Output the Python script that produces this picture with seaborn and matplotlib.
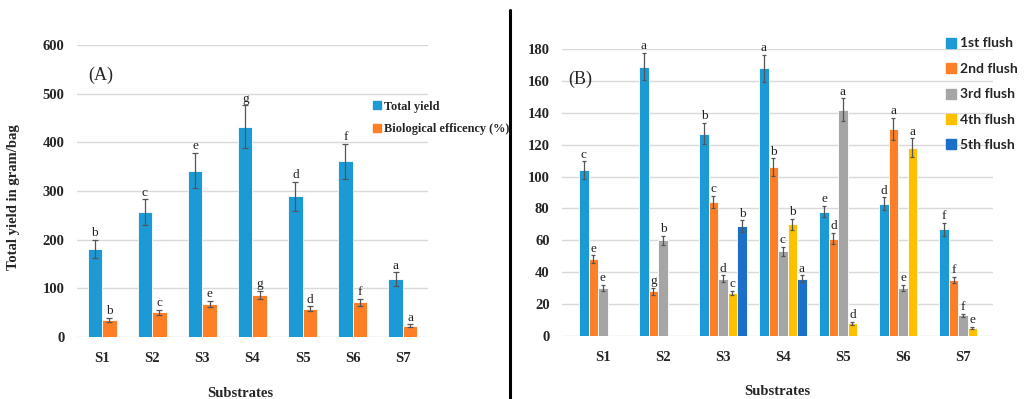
import numpy as np
import pandas as pd
import matplotlib
matplotlib.use("Agg")
import matplotlib.pyplot as plt
from matplotlib.lines import Line2D
import seaborn as sns

# ---- data -------------------------------------------------------------
substrates = ["S1", "S2", "S3", "S4", "S5", "S6", "S7"]

total_yield = [181, 257, 342, 432, 289, 361, 119]
total_yield_err = [19, 26, 36, 44, 30, 36, 14]
total_yield_letters = ["b", "c", "e", "g", "d", "f", "a"]

bio_eff = [35, 51, 68, 87, 58, 71, 23]
bio_eff_err = [5, 5, 6, 8, 5, 8, 3]
bio_eff_letters = ["b", "c", "e", "g", "d", "f", "a"]

flush_names = ["1st flush", "2nd flush", "3rd flush", "4th flush", "5th flush"]
nan = np.nan
flush1 = [104, 169, 127, 168, 78, 83, 67]
flush2 = [48, 28, 84, 106, 61, 130, 35]
flush3 = [30, 60, 36, 53, 142, 30, 13]
flush4 = [nan, nan, 27, 70, 8, 118, 5]
flush5 = [nan, nan, 69, 36, nan, nan, nan]

flush1_err = [5.5, 8.5, 6.5, 8.5, 3.5, 4, 4]
flush2_err = [2.5, 2, 4, 5.5, 3.5, 7, 2]
flush3_err = [2, 3, 2, 3, 7, 2, 1]
flush4_err = [nan, nan, 1.5, 3.5, 1, 6, 0.5]
flush5_err = [nan, nan, 3.5, 2, nan, nan, nan]

flush1_letters = ["c", "a", "b", "a", "e", "d", "f"]
flush2_letters = ["e", "g", "c", "b", "d", "a", "f"]
flush3_letters = ["e", "b", "d", "c", "a", "e", "f"]
flush4_letters = ["", "", "c", "b", "d", "a", "e"]
flush5_letters = ["", "", "b", "a", "", "", ""]

# ---- style ------------------------------------------------------------
sns.set_style("white")
plt.rcParams["font.family"] = ["Liberation Serif", "DejaVu Serif"]

BLUE = "#1B9AD6"
ORANGE = "#FF7F27"
GRAY = "#A5A5A5"
YELLOW = "#FFC000"
DBLUE = "#1B6FC8"
GRID = "#D9D9D9"
ERR = "#555555"

left_df = pd.DataFrame({
    "Substrate": substrates * 2,
    "Series": ["Total yield"] * 7 + ["Biological efficency (%)"] * 7,
    "Value": total_yield + bio_eff,
    "Err": total_yield_err + bio_eff_err,
    "Letter": total_yield_letters + bio_eff_letters,
})

flush_vals = [flush1, flush2, flush3, flush4, flush5]
flush_errs = [flush1_err, flush2_err, flush3_err, flush4_err, flush5_err]
flush_lets = [flush1_letters, flush2_letters, flush3_letters, flush4_letters, flush5_letters]
right_df = pd.DataFrame({
    "Substrate": substrates * 5,
    "Series": sum([[n] * 7 for n in flush_names], []),
    "Value": sum(flush_vals, []),
    "Err": sum(flush_errs, []),
    "Letter": sum(flush_lets, []),
})

fig = plt.figure(figsize=(10.25, 3.99), dpi=100)
axA = fig.add_axes([0.0751, 0.1554, 0.3424, 0.7318])
axB = fig.add_axes([0.5483, 0.158, 0.4205, 0.719])


def draw_panel(ax, df, order, palette, width, capsize, ylim, yticks):
    sns.barplot(data=df, x="Substrate", y="Value", hue="Series",
                order=substrates, hue_order=order, palette=palette,
                width=width, errorbar=None, edgecolor="white",
                linewidth=0.6, saturation=1, legend=False, ax=ax, zorder=2)
    lookup = {(r.Series, r.Substrate): r for r in df.itertuples()}
    for series, container in zip(order, ax.containers):
        for bar in container:
            h = bar.get_height()
            if not np.isfinite(h):
                continue
            xc = bar.get_x() + bar.get_width() / 2
            cat = substrates[int(round(xc))]
            row = lookup[(series, cat)]
            ax.errorbar(xc, h, yerr=row.Err, color=ERR, lw=0.9,
                        capsize=capsize, capthick=0.9, zorder=3)
            if row.Letter:
                ax.annotate(row.Letter, (xc, h + row.Err), xytext=(0, 0.5),
                            textcoords="offset points", ha="center",
                            va="bottom", fontsize=9.5, color="#222222")
    ax.set_ylim(*ylim)
    ax.set_yticks(yticks)
    ax.yaxis.grid(True, color=GRID, lw=1.0, zorder=0)
    ax.set_axisbelow(True)
    for s in ax.spines.values():
        s.set_visible(False)
    ax.tick_params(axis="both", length=0)
    ax.tick_params(axis="x", pad=11)
    ax.tick_params(axis="y", pad=9)
    for lbl in ax.get_xticklabels() + ax.get_yticklabels():
        lbl.set_fontweight("bold")
        lbl.set_fontsize(10.5)
    ax.set_xlabel("")
    ax.set_ylabel("")


# ---- panel A ----------------------------------------------------------
draw_panel(axA, left_df, ["Total yield", "Biological efficency (%)"],
           [BLUE, ORANGE], 0.58, 2.2, (0, 600), range(0, 601, 100))
axA.set_xlim(-0.5, 6.5)
axA.set_ylabel("Total yield in gram/bag", fontsize=10.5, fontweight="bold")
axA.yaxis.set_label_coords(-0.162, 0.48)
axA.set_xlabel("Substrates", fontsize=10.5, fontweight="bold")
axA.xaxis.set_label_coords(0.465, -0.17)
axA.text(0.031, 0.895, "(A)", transform=axA.transAxes, fontsize=13,
         va="center", ha="left")
handlesA = [Line2D([], [], marker="s", ls="none", color=c, markersize=5.5)
            for c in [BLUE, ORANGE]]
legA = axA.legend(handlesA, ["Total yield", "Biological efficency (%)"],
                  loc="upper left", bbox_to_anchor=(0.83, 0.826),
                  frameon=False, handlelength=0.6, handletextpad=0.25,
                  labelspacing=0.85, borderaxespad=0,
                  prop={"family": "Liberation Serif", "weight": "bold",
                        "size": 8.8})

# ---- panel B ----------------------------------------------------------
draw_panel(axB, right_df, flush_names,
           [BLUE, ORANGE, GRAY, YELLOW, DBLUE], 0.79, 1.6, (0, 180),
           range(0, 181, 20))
axB.set_xlim(-0.68, 6.5)
axB.set_xlabel("Substrates", fontsize=10.5, fontweight="bold")
axB.xaxis.set_label_coords(0.5, -0.17)
axB.text(0.014, 0.895, "(B)", transform=axB.transAxes, fontsize=13,
         va="center", ha="left")
handlesB = [Line2D([], [], marker="s", ls="none", color=c, markersize=6.5)
            for c in [BLUE, ORANGE, GRAY, YELLOW, DBLUE]]
legB = axB.legend(handlesB, flush_names, loc="upper left",
                  bbox_to_anchor=(0.88, 1.06), frameon=False,
                  handlelength=0.6, handletextpad=0.35, labelspacing=0.97,
                  borderaxespad=0,
                  prop={"family": "Lato", "weight": "bold", "size": 10})

# divider between the two panels
fig.add_artist(Line2D([0.4976, 0.4976], [0.0, 0.975], color="black",
                      lw=2.2, transform=fig.transFigure))

fig.savefig("out.png", dpi=100)
